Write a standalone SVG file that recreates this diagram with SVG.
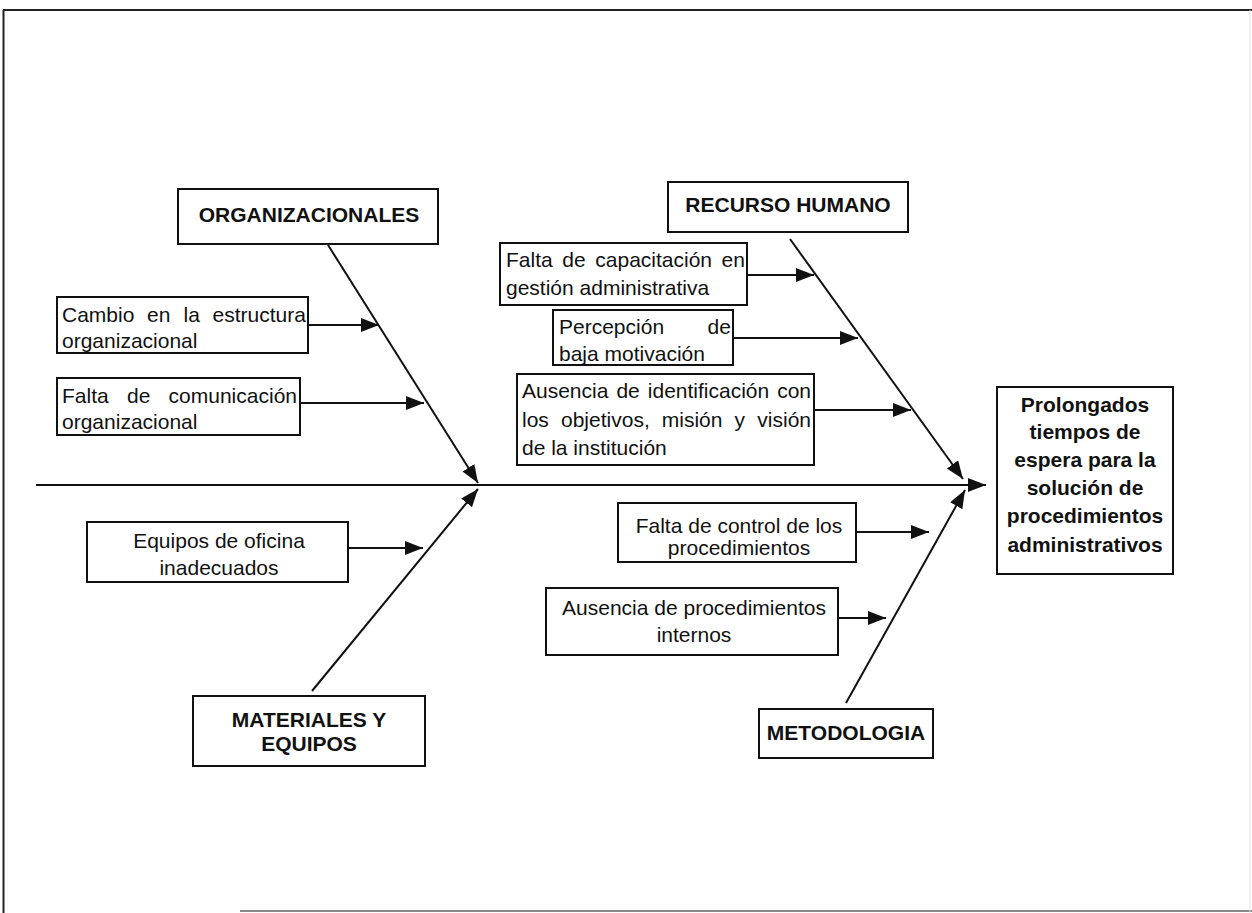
<svg xmlns="http://www.w3.org/2000/svg" width="1252" height="913" viewBox="0 0 1252 913">
  <style>
    .box { fill: #ffffff; stroke: #111111; stroke-width: 2; }
    .t { font-family: "Liberation Sans", Arial, sans-serif; font-size: 21px; fill: #111111; }
    .b { font-weight: bold; }
    .c { text-anchor: middle; }
    .ln { stroke: #111111; stroke-width: 2; fill: none; }
    .arr { stroke: #111111; stroke-width: 2; fill: none; marker-end: url(#head); }
  </style>
  <defs>
    <marker id="head" markerUnits="userSpaceOnUse" markerWidth="20" markerHeight="16" refX="18" refY="7" orient="auto">
      <path d="M0,0 L18,7 L0,14 Z" fill="#111111"/>
    </marker>
  </defs>

  <rect x="0" y="0" width="1252" height="913" fill="#ffffff"/>

  <!-- page frame -->
  <g id="frame">
    <line x1="3" y1="10" x2="1252" y2="10" stroke="#222" stroke-width="2"/>
    <line x1="3.5" y1="10" x2="3.5" y2="913" stroke="#222" stroke-width="2"/>
    <line x1="240" y1="911" x2="1252" y2="911" stroke="#888" stroke-width="2"/>
    <line x1="1250" y1="10" x2="1250" y2="913" stroke="#e4e4e4" stroke-width="1"/>
  </g>

  <!-- spine, bones and cause arrows -->
  <g id="connectors">
    <line class="arr" x1="36" y1="485" x2="986" y2="485"/>
    <line class="arr" x1="328" y1="245" x2="478" y2="483"/>
    <line class="arr" x1="312" y1="691" x2="478" y2="489"/>
    <line class="arr" x1="790" y1="239" x2="963" y2="479"/>
    <line class="arr" x1="846" y1="703" x2="965" y2="490"/>
    <line class="arr" x1="308" y1="325" x2="379" y2="325"/>
    <line class="arr" x1="300" y1="403" x2="424" y2="403"/>
    <line class="arr" x1="348" y1="548" x2="423" y2="548"/>
    <line class="arr" x1="747" y1="275" x2="814" y2="275"/>
    <line class="arr" x1="733" y1="338" x2="858" y2="338"/>
    <line class="arr" x1="814" y1="410" x2="911" y2="410"/>
    <line class="arr" x1="856" y1="532" x2="929" y2="532"/>
    <line class="arr" x1="838" y1="618" x2="886" y2="618"/>
  </g>

  <g id="organizacionales">
    <rect class="box" x="178" y="189" width="260" height="55"/>
    <text class="t b c" x="309" y="222">ORGANIZACIONALES</text>
  </g>

  <!-- justified lines: each word placed on its own x -->
  <g id="cambio-estructura">
    <rect class="box" x="57" y="297" width="251" height="56"/>
    <text class="t" y="322"><tspan x="62">Cambio</tspan><tspan x="147">en</tspan><tspan x="183.5">la</tspan><tspan x="212.6">estructura</tspan></text>
    <text class="t" x="62" y="348">organizacional</text>
  </g>

  <g id="falta-comunicacion">
    <rect class="box" x="57" y="378" width="243" height="57"/>
    <text class="t" y="403"><tspan x="62">Falta</tspan><tspan x="127">de</tspan><tspan x="168.6">comunicación</tspan></text>
    <text class="t" x="62" y="429">organizacional</text>
  </g>

  <g id="recurso-humano">
    <rect class="box" x="668" y="182" width="240" height="50"/>
    <text class="t b c" x="788" y="212">RECURSO HUMANO</text>
  </g>

  <g id="falta-capacitacion">
    <rect class="box" x="500" y="243" width="247" height="62"/>
    <text class="t" y="267"><tspan x="506">Falta</tspan><tspan x="562.3">de</tspan><tspan x="595.3">capacitación</tspan><tspan x="721.6">en</tspan></text>
    <text class="t" x="506" y="295">gestión administrativa</text>
  </g>

  <g id="percepcion-motivacion">
    <rect class="box" x="553" y="310" width="180" height="55"/>
    <text class="t" y="334"><tspan x="559">Percepción</tspan><tspan x="707.6">de</tspan></text>
    <text class="t" x="559" y="361">baja motivación</text>
  </g>

  <g id="ausencia-identificacion">
    <rect class="box" x="517" y="374" width="297" height="91"/>
    <text class="t" y="398"><tspan x="522">Ausencia</tspan><tspan x="616.4">de</tspan><tspan x="647.8">identificación</tspan><tspan x="777.2">con</tspan></text>
    <text class="t" y="427"><tspan x="522">los</tspan><tspan x="561">objetivos,</tspan><tspan x="661.8">misión</tspan><tspan x="734.6">y</tspan><tspan x="757.3">visión</tspan></text>
    <text class="t" x="522" y="455">de la institución</text>
  </g>

  <g id="efecto">
    <rect class="box" x="997" y="387" width="176" height="187"/>
    <text class="t b c" x="1085" y="412">Prolongados</text>
    <text class="t b c" x="1085" y="439">tiempos de</text>
    <text class="t b c" x="1085" y="467">espera para la</text>
    <text class="t b c" x="1085" y="495">solución de</text>
    <text class="t b c" x="1085" y="523">procedimientos</text>
    <text class="t b c" x="1085" y="552">administrativos</text>
  </g>

  <g id="equipos-oficina">
    <rect class="box" x="87" y="522" width="261" height="60"/>
    <text class="t c" x="219" y="548">Equipos de oficina</text>
    <text class="t c" x="219" y="575">inadecuados</text>
  </g>

  <g id="materiales-equipos">
    <rect class="box" x="193" y="696" width="232" height="70"/>
    <text class="t b c" x="309" y="727">MATERIALES Y</text>
    <text class="t b c" x="309" y="751">EQUIPOS</text>
  </g>

  <g id="falta-control">
    <rect class="box" x="618" y="503" width="238" height="59"/>
    <text class="t c" x="739" y="533">Falta de control de los</text>
    <text class="t c" x="739" y="555">procedimientos</text>
  </g>

  <g id="ausencia-procedimientos">
    <rect class="box" x="546" y="588" width="292" height="67"/>
    <text class="t c" x="694" y="615">Ausencia de procedimientos</text>
    <text class="t c" x="694" y="642">internos</text>
  </g>

  <g id="metodologia">
    <rect class="box" x="759" y="709" width="174" height="49"/>
    <text class="t b c" x="846" y="740">METODOLOGIA</text>
  </g>
</svg>
